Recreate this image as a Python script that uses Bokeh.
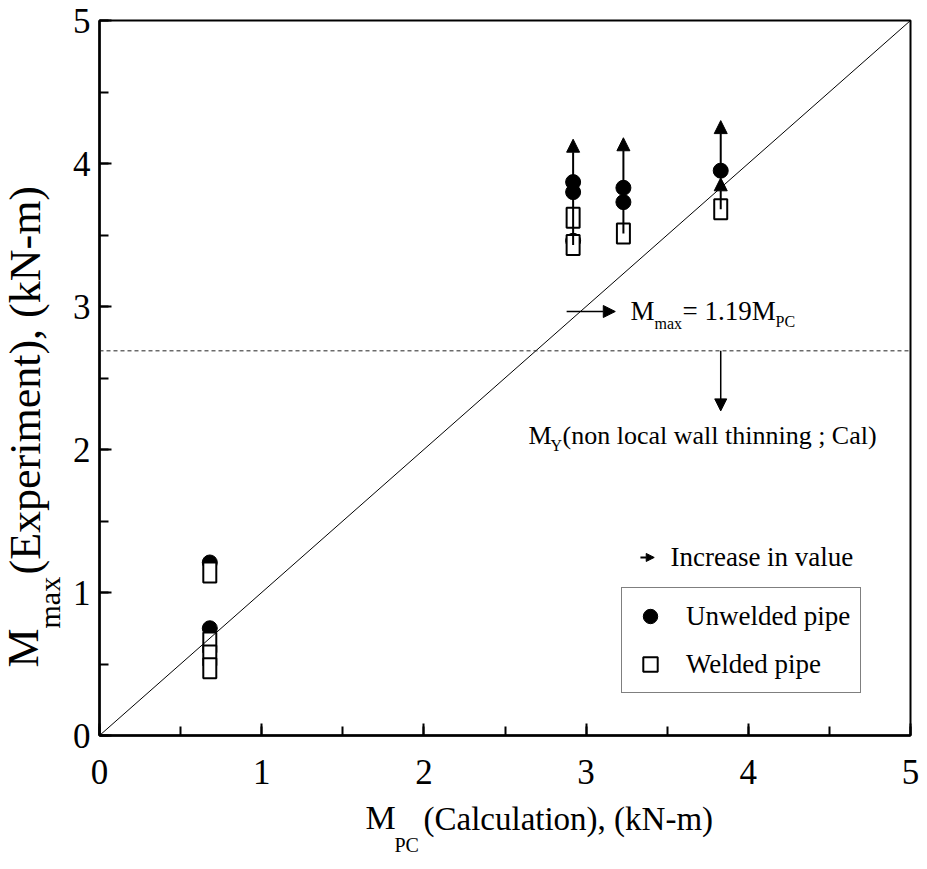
import numpy as np
from bokeh.plotting import figure
from bokeh.models import (ColumnDataSource, Arrow, NormalHead, Label, Span, Slope,
                          Legend, LegendItem, SingleIntervalTicker, Title)
from bokeh.embed import file_html
from bokeh.resources import INLINE

# ---------------- data ----------------
unwelded_x = [0.68, 0.68, 2.92, 2.92, 2.92, 3.23, 3.23, 3.83]
unwelded_y = [1.21, 0.75, 3.87, 3.80, 3.46, 3.83, 3.73, 3.95]

welded_x = [0.68, 0.68, 0.68, 0.68, 2.92, 2.92, 3.23, 3.83]
welded_y = [1.14, 0.65, 0.56, 0.47, 3.62, 3.43, 3.51, 3.68]

# "increase in value" arrows
arrow_x = [2.92, 3.23, 3.83, 3.83]
arrow_from = [3.43, 3.51, 3.95, 3.68]
arrow_to = [4.17, 4.18, 4.30, 3.90]

line_slope = 1.0          # drawn reference line
yield_moment = 2.69       # M_Y (non local wall thinning ; Cal)

SERIF = "Liberation Serif"

p = figure(width=927, height=869, x_range=(0, 5), y_range=(0, 5),
           output_backend="svg", toolbar_location=None,
           min_border_left=99, min_border_right=17, min_border_top=20,
           min_border_bottom=134)
p.grid.visible = False
p.outline_line_color = "black"
p.outline_line_width = 2
p.background_fill_color = "white"
p.border_fill_color = "white"

for ax in (p.xaxis[0], p.yaxis[0]):
    ax.ticker = SingleIntervalTicker(interval=1, num_minor_ticks=2)
    ax.axis_line_width = 2.5
    ax.axis_line_color = "black"
    ax.major_tick_in = 12
    ax.major_tick_out = 0
    ax.minor_tick_in = 9
    ax.minor_tick_out = 0
    ax.major_tick_line_width = 2
    ax.minor_tick_line_width = 2
    ax.major_tick_line_color = "black"
    ax.minor_tick_line_color = "black"
    ax.major_label_text_font = SERIF
    ax.major_label_text_font_size = "35px"
    ax.major_label_text_color = "black"
p.yaxis.major_label_standoff = 9
p.xaxis.major_label_standoff = 24

# reference lines
p.add_layout(Slope(gradient=line_slope, y_intercept=0, line_color="black", line_width=1))
p.add_layout(Span(location=yield_moment, dimension="width", line_color="#222222",
                  line_width=1, line_dash="4 3"))

# data marks
src_u = ColumnDataSource(dict(x=unwelded_x, y=unwelded_y))
src_w = ColumnDataSource(dict(x=welded_x, y=welded_y))
r_circ = p.scatter("x", "y", source=src_u, marker="circle", size=15,
                   fill_color="black", line_color="black")
p.rect("x", "y", source=src_w, width=13, height=20, width_units="screen",
       height_units="screen", fill_color="white", line_color="black", line_width=2)
r_sq_proxy = p.scatter("x", "y", source=src_w, marker="square", size=14,
                       fill_color="white", line_color="black", line_width=2, visible=False)

arrow_src = ColumnDataSource(dict(x=arrow_x, y0=arrow_from, y1=arrow_to))
p.add_layout(Arrow(end=NormalHead(size=13, fill_color="black", line_color="black"),
                   x_start="x", y_start="y0", x_end="x", y_end="y1",
                   source=arrow_src, line_width=2, line_color="black"))

# annotation: M_max = 1.19 M_PC
p.add_layout(Arrow(end=NormalHead(size=12, fill_color="black", line_color="black"),
                   x_start=2.88, y_start=2.965, x_end=3.18, y_end=2.965,
                   line_width=1.5, line_color="black"))
ax0, ay0 = 3.274, 2.97
for txt, dx, dy, fs in [("M", 0, 0, "27px"), ("max", 24, -13, "16px"),
                        ("= 1.19M", 52, 0, "27px"), ("PC", 145, -11, "16px")]:
    p.add_layout(Label(x=ax0, y=ay0, x_offset=dx, y_offset=dy, text=txt,
                       text_font=SERIF, text_font_size=fs, text_baseline="middle",
                       text_align="left", text_color="black"))

# annotation: M_Y
p.add_layout(Arrow(end=NormalHead(size=12, fill_color="black", line_color="black"),
                   x_start=3.83, y_start=yield_moment, x_end=3.83, y_end=2.27,
                   line_width=1.5, line_color="black"))
bx0, by0 = 2.645, 2.10
for txt, dx, dy, fs in [("M", 0, 0, "26px"), ("Y", 22, -10, "16px"),
                        ("(non local wall thinning ; Cal)", 34, 0, "26px")]:
    p.add_layout(Label(x=bx0, y=by0, x_offset=dx, y_offset=dy, text=txt,
                       text_font=SERIF, text_font_size=fs, text_baseline="middle",
                       text_align="left", text_color="black"))

# "Increase in value" key
p.add_layout(Arrow(end=NormalHead(size=8, fill_color="black", line_color="black"),
                   x_start=3.335, y_start=1.245, x_end=3.42, y_end=1.245,
                   line_width=2, line_color="black"))
p.add_layout(Label(x=3.52, y=1.245, text="Increase in value", text_font=SERIF,
                   text_font_size="27px", text_baseline="middle", text_align="left",
                   text_color="black"))

# legend
legend = Legend(items=[LegendItem(label="Unwelded pipe", renderers=[r_circ]),
                       LegendItem(label="Welded pipe", renderers=[r_sq_proxy])],
                location=(522, 42), label_text_font=SERIF, label_text_font_size="27px",
                label_text_color="black",
                glyph_width=36, glyph_height=36, label_height=36, spacing=12,
                padding=10, label_standoff=18, border_line_color="black",
                border_line_width=1, background_fill_color="white",
                background_fill_alpha=1.0, margin=0)
p.add_layout(legend)


def side_title(text, size, offset, standoff):
    return Title(text=text, align="left", vertical_align="top", offset=offset,
                 standoff=standoff, text_font=SERIF, text_font_size=size,
                 text_font_style="normal", text_color="black")


# x-axis title: M_PC (Calculation), (kN-m)
p.add_layout(side_title("M", "34px", 266, 24), "below")
p.add_layout(side_title("PC", "20px", 295, -32), "below")
p.add_layout(side_title("(Calculation), (kN-m)", "33px", 324, -98), "below")

# y-axis title: M_max (Experiment), (kN-m)
p.add_layout(side_title("max", "30px", 107, 4), "left")
p.add_layout(side_title("M", "44px", 68, -64), "left")
p.add_layout(side_title("(Experiment), (kN-m)", "44px", 161, -42), "left")

open("out.html", "w").write(file_html(p, INLINE))
